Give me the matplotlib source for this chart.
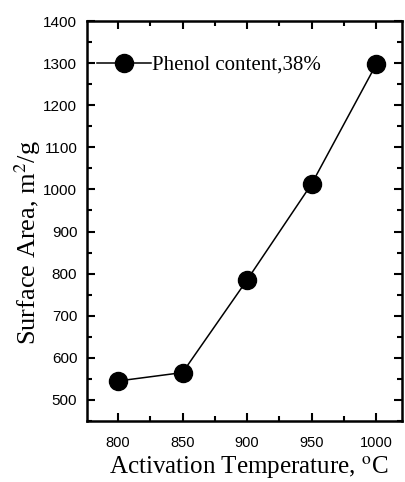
import matplotlib
matplotlib.use("Agg")
import matplotlib.pyplot as plt
from matplotlib.ticker import MultipleLocator

temps = [800, 850, 900, 950, 1000]
surface_area = [545, 565, 785, 1013, 1297]
label = "Phenol content,38%"

plt.rcParams["font.family"] = ["Liberation Serif", "DejaVu Serif"]
plt.rcParams["mathtext.fontset"] = "stix"

fig = plt.figure(figsize=(4.06, 4.82), dpi=100)
ax = fig.add_axes([87 / 406, 1 - 421 / 482, 315 / 406, 400 / 482])

ax.plot(temps, surface_area, color="black", lw=1.1, marker="o",
        markersize=13, label=label)

ax.set_xlim(776, 1020)
ax.set_ylim(450, 1400)
ax.xaxis.set_major_locator(MultipleLocator(50))
ax.xaxis.set_minor_locator(MultipleLocator(25))
ax.yaxis.set_major_locator(MultipleLocator(100))
ax.yaxis.set_minor_locator(MultipleLocator(50))
ax.tick_params(which="both", direction="in", top=True, right=True, width=1.5)
ax.tick_params(which="major", length=6)
ax.tick_params(which="minor", length=3.5)
ax.tick_params(axis="x", which="major", pad=11, labelsize=10.5)
ax.tick_params(axis="y", which="major", pad=7, labelsize=11)
for t in ax.get_xticklabels() + ax.get_yticklabels():
    t.set_family("Liberation Sans")
for s in ax.spines.values():
    s.set_linewidth(1.8)

ax.set_xlabel("Activation Temperature, $^{\\mathrm{o}}$C", fontsize=18)
ax.set_ylabel("Surface Area, m$^{2}$/g", fontsize=19)
ax.xaxis.set_label_coords(0.514, -0.085)
ax.yaxis.set_label_coords(-0.14, 0.445)

ax.legend(loc="center left", bbox_to_anchor=((97 - 87) / 315, 1 - 44 / 400),
          frameon=False, fontsize=15, handlelength=2.6, handletextpad=0.05,
          borderaxespad=0, borderpad=0)

fig.savefig("out.png", dpi=100)
